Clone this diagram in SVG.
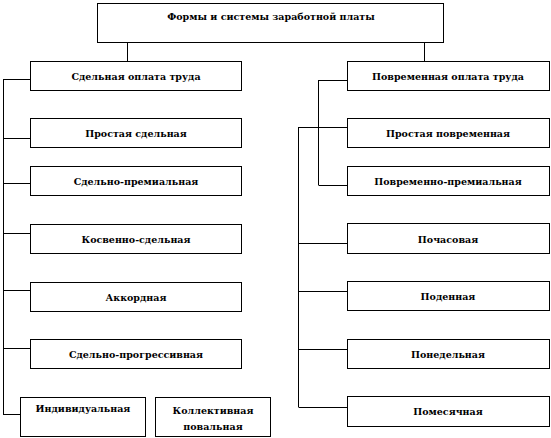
<svg xmlns="http://www.w3.org/2000/svg" width="551" height="438" viewBox="0 0 551 438">
<style>
.box{fill:#fff;stroke:#000;stroke-width:1}
.t{font-family:"DejaVu Serif","Liberation Serif",serif;font-weight:bold;font-size:9.5px;fill:#000;text-anchor:middle}
.c{fill:none;stroke:#000;stroke-width:1}
</style>
<rect width="551" height="438" fill="#fff"/>
<g id="connectors">
<path class="c" d="M127.5,42 V61 M424.5,42 V61"/>
<path class="c" d="M3.5,79 V415 M3.5,79.5 H30 M3.5,138.5 H30 M3.5,183.5 H30 M3.5,233.5 H30 M3.5,290.5 H30 M3.5,348.5 H30 M3.5,414.5 H20"/>
<path class="c" d="M318.5,80 V185 M318.5,80.5 H347 M318.5,185.5 H347 M298,127.5 H347"/>
<path class="c" d="M298.5,127 V407 M298.5,243.5 H347 M298.5,291.5 H347 M298.5,349.5 H347 M298.5,407.5 H347"/>
</g>
<g id="n-top"><rect class="box" x="97.5" y="3.5" width="346" height="39"/><text class="t" x="271" y="20">Формы и системы заработной платы</text></g>
<g id="n-sdel"><rect class="box" x="30.5" y="61.5" width="211" height="29"/><text class="t" x="136" y="80">Сдельная  оплата труда</text></g>
<g id="n-prs"><rect class="box" x="30.5" y="118.5" width="211" height="29"/><text class="t" x="136" y="137">Простая сдельная</text></g>
<g id="n-sp"><rect class="box" x="30.5" y="166.5" width="211" height="29"/><text class="t" x="136" y="185">Сдельно-премиальная</text></g>
<g id="n-ks"><rect class="box" x="30.5" y="224.5" width="211" height="29"/><text class="t" x="136" y="243">Косвенно-сдельная</text></g>
<g id="n-ak"><rect class="box" x="30.5" y="282.5" width="211" height="29"/><text class="t" x="136" y="301">Аккордная</text></g>
<g id="n-spr"><rect class="box" x="30.5" y="339.5" width="211" height="29"/><text class="t" x="136" y="358">Сдельно-прогрессивная</text></g>
<g id="n-ind"><rect class="box" x="20.5" y="397.5" width="125" height="39"/><text class="t" x="83" y="412">Индивидуальная</text></g>
<g id="n-kol"><rect class="box" x="155.5" y="397.5" width="115" height="39"/><text class="t" x="213" y="414">Коллективная</text><text class="t" x="213" y="430">повальная</text></g>
<g id="n-pov"><rect class="box" x="347.5" y="61.5" width="202" height="29"/><text class="t" x="448" y="80">Повременная оплата  труда</text></g>
<g id="n-prp"><rect class="box" x="347.5" y="118.5" width="202" height="29"/><text class="t" x="448" y="137">Простая повременная</text></g>
<g id="n-pp"><rect class="box" x="347.5" y="166.5" width="202" height="29"/><text class="t" x="448" y="185">Повременно-премиальная</text></g>
<g id="n-pch"><rect class="box" x="347.5" y="223.5" width="202" height="30"/><text class="t" x="448" y="243">Почасовая</text></g>
<g id="n-pd"><rect class="box" x="347.5" y="281.5" width="202" height="29"/><text class="t" x="448" y="300">Поденная</text></g>
<g id="n-pn"><rect class="box" x="347.5" y="339.5" width="202" height="29"/><text class="t" x="448" y="358">Понедельная</text></g>
<g id="n-pm"><rect class="box" x="347.5" y="396.5" width="202" height="30"/><text class="t" x="448" y="415">Помесячная</text></g>
</svg>
